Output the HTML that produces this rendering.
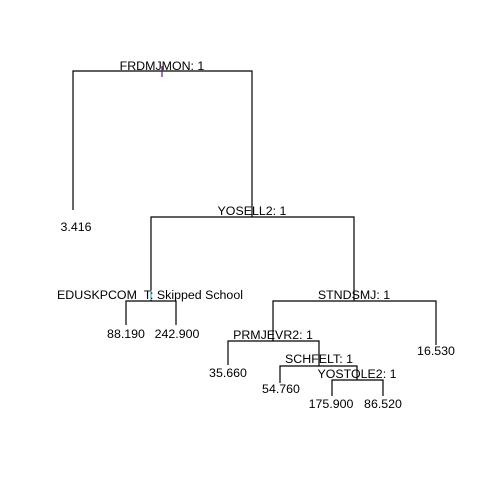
<!DOCTYPE html><html><head><style>body{margin:0;background:#fff}svg{display:block}text{font-family:"Liberation Sans",sans-serif;font-size:12.4px;fill:#000;text-anchor:middle}</style></head><body>
<svg width="480" height="480" viewBox="0 0 480 480">
<g stroke="#000" stroke-width="1.2" fill="none">
<path d="M73,210V71H252V217"/>
<path d="M151,301V217H354V301"/>
<path d="M126,325V301H176V325"/>
<path d="M273,341V301H436V345"/>
<path d="M228,365V341H319V366"/>
<path d="M280,383V366H357V380"/>
<path d="M332,396V380H383V396"/>
</g>
<line x1="162" y1="66" x2="162" y2="77" stroke="#602070" stroke-width="1.2"/>
<line x1="151" y1="290" x2="151" y2="300" stroke="#6cf" stroke-width="1"/>
<text x="162" y="70">FRDMJMON: 1</text>
<text x="76" y="231">3.416</text>
<text x="252" y="215">YOSELL2: 1</text>
<text x="150" y="299">EDUSKPCOM_T: Skipped School</text>
<text x="126" y="338">88.190</text>
<text x="177" y="338">242.900</text>
<text x="354" y="299">STNDSMJ: 1</text>
<text x="436" y="355">16.530</text>
<text x="273" y="339">PRMJEVR2: 1</text>
<text x="228" y="377">35.660</text>
<text x="319" y="363">SCHFELT: 1</text>
<text x="281" y="393">54.760</text>
<text x="357" y="378">YOSTOLE2: 1</text>
<text x="331" y="408">175.900</text>
<text x="383" y="408">86.520</text>
</svg></body></html>
